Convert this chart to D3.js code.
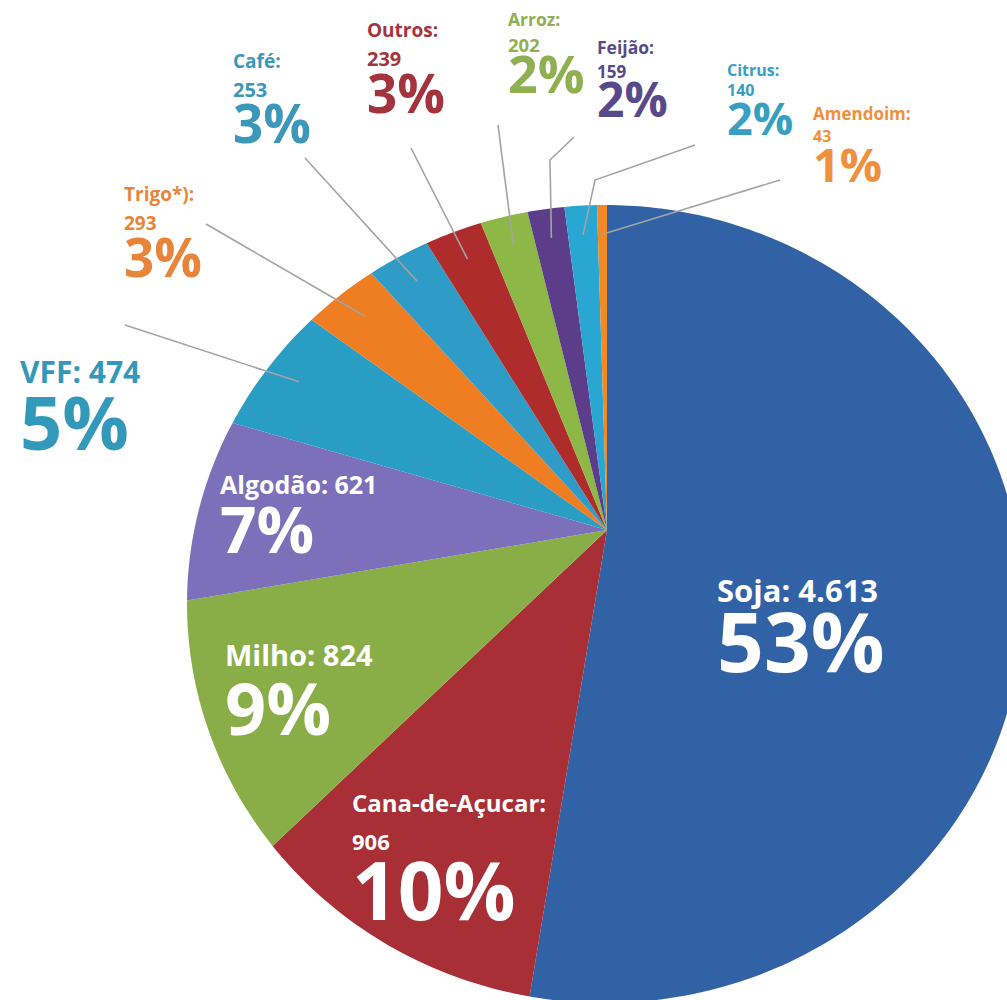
<!DOCTYPE html>
<html>
<head>
<meta charset="utf-8">
<script src="https://cdn.jsdelivr.net/npm/d3@7"></script>
<style>
body { margin: 0; background: #fff; }
text { font-family: "Open Sans", sans-serif; font-weight: 700; }
</style>
</head>
<body>
<div id="chart"></div>
<script>
const width = 1007, height = 1000;

// data, clockwise from the top
const crops = ["Soja", "Cana-de-Açucar", "Milho", "Algodão", "VFF", "Trigo*)", "Café", "Outros", "Arroz", "Feijão", "Citrus", "Amendoim"];
const values = [4613, 906, 824, 621, 474, 293, 253, 239, 202, 159, 140, 43];
const percents = ["53%", "10%", "9%", "7%", "5%", "3%", "3%", "3%", "2%", "2%", "2%", "1%"];

const sliceColors = ["#3162a6", "#a82f36", "#8aae47", "#7b70b9", "#2a9dc4", "#ef7d22", "#2e9cc6", "#ae2d2c", "#8db746", "#5b3d8a", "#2aa6d2", "#f18a24"];
const labelColors = ["#fff", "#fff", "#fff", "#fff", "#3399bb", "#e8853a", "#3b98ba", "#a3333c", "#8fb050", "#584a8a", "#379fc2", "#f0903c"];

// pie outline is a slightly flattened ellipse, the slices meet above its middle
const apex = {x: 607, y: 530};
const rim = {cx: 605, cy: 604, rx: 418, ry: 399};

// label layout: left x, baselines and font sizes; split = name and value on two lines
const labelLayout = [
	{x: 717, split: false, base: [602, 672], size: [31, 82]},
	{x: 352, split: true, base: [812, 850, 920], size: [24, 22, 80]},
	{x: 225, split: false, base: [666, 735], size: [29, 72]},
	{x: 220, split: false, base: [494, 553], size: [25, 64]},
	{x: 20, split: false, base: [383, 450], size: [30, 74]},
	{x: 124, split: true, base: [201, 230, 277], size: [19, 19, 53]},
	{x: 233, split: true, base: [68, 97, 143], size: [19, 20, 53]},
	{x: 367, split: true, base: [37, 66, 113], size: [19, 20, 53]},
	{x: 508, split: true, base: [26, 52, 93], size: [17.5, 18.5, 52]},
	{x: 597, split: true, base: [54, 78, 117], size: [17.5, 17, 48]},
	{x: 727, split: true, base: [76, 96, 135], size: [16, 16, 45]},
	{x: 813, split: true, base: [120, 142, 182], size: [17, 16, 47]}
];
// leader lines start near the label, end inside the slice
const leaders = [null, null, null, null,
	[[125, 325]], [[206, 224]], [[305, 158]], [[411, 148]],
	[[498, 125]], [[574, 137], [550, 160]], [[695, 145], [595, 180]], [[780, 180]]];

const ptBR = d3.formatLocale({decimal: ",", thousands: ".", grouping: [3], currency: ["R$", ""]});
const fmt = ptBR.format(",d");

// point where a ray from the apex at pie angle a meets the rim
function rimPoint(a, frac = 1) {
	const dx = Math.sin(a), dy = -Math.cos(a);
	const ox = apex.x - rim.cx, oy = apex.y - rim.cy;
	const A = (dx / rim.rx) ** 2 + (dy / rim.ry) ** 2;
	const B = 2 * (ox * dx / rim.rx ** 2 + oy * dy / rim.ry ** 2);
	const C = (ox / rim.rx) ** 2 + (oy / rim.ry) ** 2 - 1;
	const t = (-B + Math.sqrt(B * B - 4 * A * C)) / (2 * A);
	return [apex.x + dx * t * frac, apex.y + dy * t * frac];
}

const svg = d3.select("#chart").append("svg")
	.attr("width", width)
	.attr("height", height);

const pie = d3.pie().sort(null).value(d => d.value);
const arcs = pie(crops.map((c, i) => ({crop: c, value: values[i], i})));

const line = d3.line();
function slicePath(d) {
	const n = Math.max(4, Math.ceil((d.endAngle - d.startAngle) * 60));
	const pts = [[apex.x, apex.y]];
	for (let k = 0; k <= n; k++) {
		pts.push(rimPoint(d.startAngle + (d.endAngle - d.startAngle) * k / n));
	}
	return line(pts) + "Z";
}

svg.append("g")
	.selectAll("path")
	.data(arcs)
	.join("path")
	.attr("d", slicePath)
	.attr("fill", d => sliceColors[d.data.i]);

// leader lines
svg.append("g")
	.selectAll("path")
	.data(arcs.filter(d => leaders[d.data.i]))
	.join("path")
	.attr("fill", "none")
	.attr("stroke", "#a3a3a3")
	.attr("stroke-width", 1.6)
	.attr("d", d => line([...leaders[d.data.i], rimPoint((d.startAngle + d.endAngle) / 2, 0.91)]));

// labels
const labels = svg.append("g")
	.selectAll("g")
	.data(arcs)
	.join("g")
	.attr("fill", d => labelColors[d.data.i]);

labels.each(function (d) {
	const lay = labelLayout[d.data.i];
	const lines = lay.split
		? [d.data.crop + ":", fmt(d.data.value), percents[d.data.i]]
		: [d.data.crop + ": " + fmt(d.data.value), percents[d.data.i]];
	d3.select(this).selectAll("text")
		.data(lines)
		.join("text")
		.attr("x", lay.x)
		.attr("y", (t, j) => lay.base[j])
		.style("font-size", (t, j) => lay.size[j] + "px")
		.text(t => t);
});
</script>
</body>
</html>
